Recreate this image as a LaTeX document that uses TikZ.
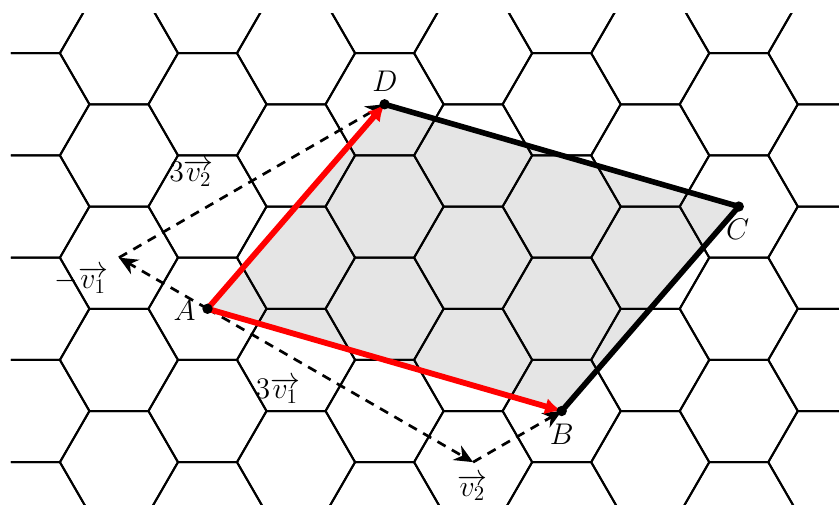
\documentclass[tikz,border=0pt]{standalone}
\usetikzlibrary{arrows.meta}
\begin{document}
\begin{tikzpicture}[x=1cm,y=1cm,
  hexline/.style={line width=0.95pt, line join=round},
  vecdash/.style={line width=1.3pt, dash pattern=on 4.5pt off 3.5pt, -{Stealth[length=9pt,width=8pt]}},
  redvec/.style={red, line width=2.8pt, -{Latex[length=8pt,width=8pt]}},
  sideline/.style={line width=2.7pt, line join=round},
  lbl/.style={font=\Large, inner sep=0pt},
  dot/.style={circle, fill=black, inner sep=0pt, minimum size=5pt}]
\useasboundingbox (-3.515,-3.324) rectangle (10.698,5.231);
\coordinate (A) at (0,0);
\coordinate (B) at (6,{-sqrt(3)});
\coordinate (C) at (9,{sqrt(3)});
\coordinate (D) at (3,{2*sqrt(3)});
\coordinate (M) at (-1.5,{sqrt(3)/2});
\coordinate (N) at (4.5,{-3*sqrt(3)/2});
\fill[gray!20] (A) -- (B) -- (C) -- (D) -- cycle;
\begin{scope}
\clip (-3.329,-3.6) rectangle (10.9,4.994);
\foreach \i in {-6,...,7}{
 \foreach \j in {-5,...,8}{
  \draw[hexline] ({1.5*(\i+\j)},{(\j-\i)*sqrt(3)/2}) +(0:1) -- +(60:1) -- +(120:1) -- +(180:1) -- +(240:1) -- +(300:1) -- cycle;
 }}
\end{scope}
\draw[vecdash] (A) -- (M);
\draw[vecdash] (M) -- (D);
\draw[vecdash] (A) -- (N);
\draw[vecdash] (N) -- (B);
\draw[redvec] (A) -- (D);
\draw[redvec] (A) -- (B);
\draw[sideline] (D) -- (C) -- (B);
\node[dot] (dA) at (A) {};
\node[dot] (dB) at (B) {};
\node[dot] (dC) at (C) {};
\node[dot] (dD) at (D) {};
\node[lbl] (lA) at (-0.39,-0.025) {$A$};
\node[lbl] (lB) at (6.0,-2.13) {$B$};
\node[lbl] (lC) at (8.98,1.352) {$C$};
\node[lbl] (lD) at (3.007,3.858) {$D$};
\node[lbl] (l3v2) at (-0.27,2.30) {$3\overrightarrow{v_2}$};
\node[lbl] (lmv1) at (-2.134,0.488) {$-\overrightarrow{v_1}$};
\node[lbl] (l3v1) at (1.194,-1.379) {$3\overrightarrow{v_1}$};
\node[lbl] (lv2) at (4.489,-3.027) {$\overrightarrow{v_2}$};
\end{tikzpicture}
\end{document}
